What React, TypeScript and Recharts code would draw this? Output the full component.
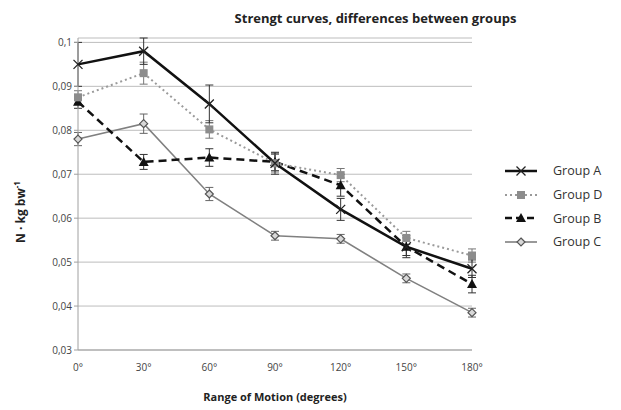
import React from "react";
import {
	CartesianGrid,
	ErrorBar,
	Line,
	LineChart,
	XAxis,
	YAxis,
} from "recharts";

const angles = ["0°", "30°", "60°", "90°", "120°", "150°", "180°"];

const groupA = [0.095, 0.098, 0.086, 0.0725, 0.062, 0.0535, 0.0485];
const groupD = [0.0875, 0.093, 0.0802, 0.0725, 0.0698, 0.0555, 0.0515];
const groupB = [0.0865, 0.0728, 0.0738, 0.0728, 0.0675, 0.0535, 0.045];
const groupC = [0.078, 0.0815, 0.0655, 0.056, 0.0553, 0.0463, 0.0385];

const errA = [0.005, 0.003, 0.0043, 0.0025, 0.0025, 0.0025, 0.002];
const errD = [0.0015, 0.0025, 0.002, 0.002, 0.0015, 0.0015, 0.0015];
const errB = [0.0015, 0.0017, 0.002, 0.002, 0.0025, 0.002, 0.002];
const errC = [0.0015, 0.0022, 0.0015, 0.001, 0.001, 0.001, 0.001];

const yTicks = [0.03, 0.04, 0.05, 0.06, 0.07, 0.08, 0.09, 0.1];

const data = angles.map((angle, i) => ({
	angle,
	a: groupA[i],
	d: groupD[i],
	b: groupB[i],
	c: groupC[i],
	errA: errA[i],
	errD: errD[i],
	errB: errB[i],
	errC: errC[i],
}));

const font = "'Open Sans', 'Liberation Sans', sans-serif";

const CrossDot = (props: any) => {
	const { cx, cy } = props;
	if (cx == null || cy == null) return null;
	const s = 4.5;
	return (
		<path
			d={`M${cx - s},${cy - s}L${cx + s},${cy + s}M${cx - s},${cy + s}L${cx + s},${cy - s}`}
			stroke="#222"
			strokeWidth={1.3}
		/>
	);
};

const SquareDot = (props: any) => {
	const { cx, cy } = props;
	if (cx == null || cy == null) return null;
	return <rect x={cx - 4} y={cy - 4} width={8} height={8} fill="#8c8c8c" />;
};

const TriangleDot = (props: any) => {
	const { cx, cy } = props;
	if (cx == null || cy == null) return null;
	return (
		<path
			d={`M${cx},${cy - 5}L${cx + 5},${cy + 4}L${cx - 5},${cy + 4}Z`}
			fill="#111"
		/>
	);
};

const DiamondDot = (props: any) => {
	const { cx, cy } = props;
	if (cx == null || cy == null) return null;
	return (
		<path
			d={`M${cx},${cy - 4}L${cx + 4},${cy}L${cx},${cy + 4}L${cx - 4},${cy}Z`}
			fill="#d8d8d8"
			stroke="#555"
			strokeWidth={1.2}
		/>
	);
};

const legendItems = [
	{ name: "Group A", stroke: "#111", width: 2.5, dash: undefined, Dot: CrossDot },
	{ name: "Group D", stroke: "#999", width: 2, dash: "2 3", Dot: SquareDot },
	{ name: "Group B", stroke: "#111", width: 2.5, dash: "7 4", Dot: TriangleDot },
	{ name: "Group C", stroke: "#808080", width: 1.6, dash: undefined, Dot: DiamondDot },
];

function ChartLegend() {
	return (
		<div
			style={{
				position: "absolute",
				left: 503,
				top: 159,
				fontFamily: font,
				fontSize: 12.5,
				color: "#333",
			}}
		>
			{legendItems.map((item) => (
				<div
					key={item.name}
					style={{ display: "flex", alignItems: "center", height: 23.7 }}
				>
					<svg width={36} height={14}>
						<line
							x1={2}
							y1={7}
							x2={34}
							y2={7}
							stroke={item.stroke}
							strokeWidth={item.width}
							strokeDasharray={item.dash}
						/>
						<item.Dot cx={18} cy={7} />
					</svg>
					<span style={{ marginLeft: 14 }}>{item.name}</span>
				</div>
			))}
		</div>
	);
}

export default function App() {
	return (
		<div
			style={{
				position: "absolute",
				left: 0,
				top: 0,
				width: 621,
				height: 410,
				background: "#fff",
			}}
		>
			<div
				style={{
					position: "absolute",
					left: 0,
					width: 621,
					top: 9,
					textAlign: "center",
					paddingLeft: 130,
					boxSizing: "border-box",
					fontFamily: font,
					fontWeight: 700,
					fontSize: 13,
					color: "#222",
				}}
			>
				Strengt curves, differences between groups
			</div>
			<div
				style={{
					position: "absolute",
					left: 20,
					top: 212,
					transform: "translate(-50%, -50%) rotate(-90deg)",
					fontFamily: font,
					fontWeight: 700,
					fontSize: 12,
					color: "#222",
					whiteSpace: "nowrap",
				}}
			>
				N · kg bw<sup style={{ fontSize: 8 }}>-1</sup>
			</div>
			<div
				style={{
					position: "absolute",
					left: 78,
					width: 394,
					top: 389,
					textAlign: "center",
					fontFamily: font,
					fontWeight: 700,
					fontSize: 11,
					color: "#222",
				}}
			>
				Range of Motion (degrees)
			</div>
			<ChartLegend />
			<LineChart
				width={621}
				height={410}
				data={data}
				margin={{ top: 38, right: 149, bottom: 30, left: 38 }}
				style={{ position: "absolute", left: 0, top: 0 }}
			>
				<CartesianGrid vertical={false} stroke="#bdbdbd" strokeWidth={1} />
				<XAxis
					dataKey="angle"
					height={30}
					stroke="#a0a0a0"
					tickLine={false}
					tick={{ fill: "#444", fontSize: 10, fontFamily: font }}
					tickMargin={8}
				/>
				<YAxis
					domain={[0.03, 0.1]}
					ticks={yTicks}
					width={40}
					stroke="#a0a0a0"
					tickSize={4}
					tick={{ fill: "#444", fontSize: 10, fontFamily: font }}
					tickFormatter={(v: number) => String(Number(v.toFixed(2))).replace(".", ",")}
				/>
				<Line
					dataKey="c"
					name="Group C"
					stroke="#808080"
					strokeWidth={1.6}
					dot={<DiamondDot />}
					activeDot={false}
					isAnimationActive={false}
				>
					<ErrorBar dataKey="errC" width={4} stroke="#666" strokeWidth={1} direction="y" />
				</Line>
				<Line
					dataKey="b"
					name="Group B"
					stroke="#111"
					strokeWidth={2.5}
					strokeDasharray="8 5"
					dot={<TriangleDot />}
					activeDot={false}
					isAnimationActive={false}
				>
					<ErrorBar dataKey="errB" width={4} stroke="#333" strokeWidth={1} direction="y" />
				</Line>
				<Line
					dataKey="d"
					name="Group D"
					stroke="#9a9a9a"
					strokeWidth={2}
					strokeDasharray="2 3"
					dot={<SquareDot />}
					activeDot={false}
					isAnimationActive={false}
				>
					<ErrorBar dataKey="errD" width={4} stroke="#777" strokeWidth={1} direction="y" />
				</Line>
				<Line
					dataKey="a"
					name="Group A"
					stroke="#111"
					strokeWidth={2.5}
					dot={<CrossDot />}
					activeDot={false}
					isAnimationActive={false}
				>
					<ErrorBar dataKey="errA" width={4} stroke="#333" strokeWidth={1} direction="y" />
				</Line>
			</LineChart>
		</div>
	);
}
